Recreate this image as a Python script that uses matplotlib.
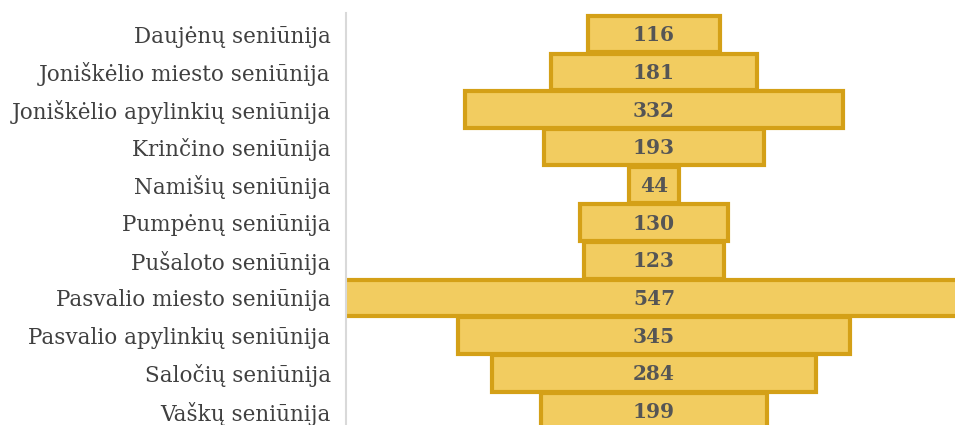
import matplotlib
matplotlib.use("Agg")
import matplotlib.pyplot as plt

categories = ["Daujėnų seniūnija", "Joniškėlio miesto seniūnija", "Joniškėlio apylinkių seniūnija",
              "Krinčino seniūnija", "Namišių seniūnija", "Pumpėnų seniūnija", "Pušaloto seniūnija",
              "Pasvalio miesto seniūnija", "Pasvalio apylinkių seniūnija", "Saločių seniūnija",
              "Vaškų seniūnija"]
values = [116, 181, 332, 193, 44, 130, 123, 547, 345, 284, 199]

fill_color = "#F2CC60"
edge_color = "#D4A017"
text_color = "#555555"
label_color = "#404040"

fig = plt.figure(figsize=(9.55, 4.25), dpi=100)
ax = fig.add_axes([346/955, 0, 609/955, 412/425])

ys = list(range(len(categories)))
lefts = [-v/2 for v in values]
ax.barh(ys, values, left=lefts, height=0.97, color=fill_color, edgecolor=edge_color, linewidth=3)
for y, v in zip(ys, values):
    ax.text(0, y + 0.03, str(v), ha="center", va="center", fontsize=14.5, fontweight="bold",
            family="DejaVu Serif", color=text_color)

ax.set_xlim(-270.4, 264.3)
ax.set_ylim(10.37, -0.56)
ax.set_yticks(ys)
ax.set_yticklabels(categories, family="DejaVu Serif", fontsize=15.5, color=label_color)
ax.tick_params(axis="y", length=0, pad=11)
ax.set_xticks([])
for s in ["top", "right", "bottom"]:
    ax.spines[s].set_visible(False)
ax.spines["left"].set_color("#D9D9D9")
ax.spines["left"].set_linewidth(1.5)
ax.spines["left"].set_zorder(5)

fig.savefig("out.png", dpi=100)
